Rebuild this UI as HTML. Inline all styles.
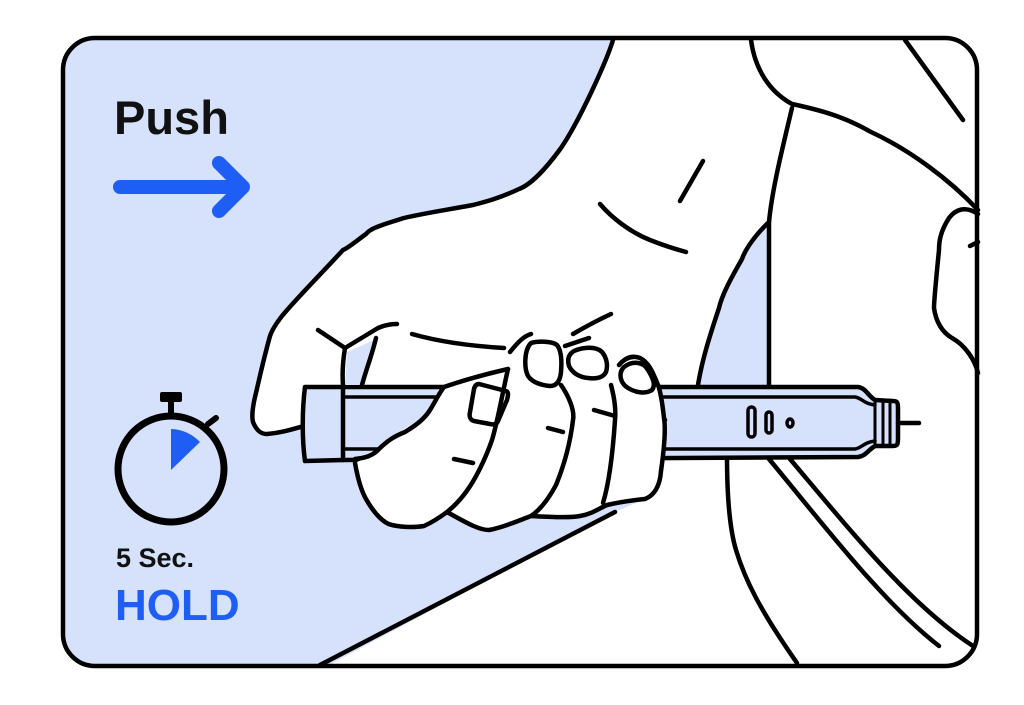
<!DOCTYPE html>
<html><head><meta charset="utf-8"><style>
html,body{margin:0;padding:0;background:#fff;}
svg{display:block;}
text{font-family:"Liberation Sans",sans-serif;font-weight:bold;}
</style></head><body>
<svg width="1024" height="705" viewBox="0 0 1024 705" xmlns="http://www.w3.org/2000/svg">
<defs><clipPath id="c"><rect x="63" y="38" width="914" height="628" rx="32"/></clipPath></defs>
<g clip-path="url(#c)">
<rect x="63" y="38" width="914" height="628" fill="#d6e1fb"/>
<path d="M613,30 C607,60 580,120 561,148 C545,170 530,185 519,189 C500,198 485,202 473,205 C440,211 420,214 404,218 C385,224 370,228 366,234 C355,242 348,248 343,250 C320,275 295,300 282,316 C275,325 272,330 270,336 C262,365 258,385 255,397 C252,410 252,418 253,422 C257,432 262,434 267,434 C280,433 290,430 301,426 L355,463 C360,480 366,499 366,499 C375,515 385,524 389,524 C405,528 420,527 424,526 C435,521 447,512 447,512 C470,525 489,530 489,530 L531,516 L580,516 L607,505 L645,499 L615,512 L320,670 L990,670 L990,30 Z" fill="#fff"/>
<path d="M768,222 C755,235 745,250 742,259 C730,280 722,295 719,308 C710,335 702,360 698,385 L769,385 Z" fill="#d6e1fb"/>
</g>
<g fill="none" stroke="#000" stroke-width="4.5" stroke-linecap="round" stroke-linejoin="round">
<path d="M613,40 C607,60 580,120 561,148 C545,170 530,185 519,189 C500,198 485,202 473,205 C440,211 420,214 404,218 C385,224 370,228 366,234 C355,242 348,248 343,250 C320,275 295,300 282,316 C275,325 272,330 270,336 C262,365 258,385 255,397 C252,410 252,418 253,422 C257,432 262,434 267,434 C280,433 290,430 304,426"/>
<path d="M320,665 L615,512"/>
<path d="M769,222 C755,235 745,250 742,259 C730,280 722,295 719,308 C710,335 702,360 698,385"/>
<path d="M792,108 C782,150 772,190 769,222 L769,385"/>
<path d="M751,40 C755,70 770,92 792,104 C830,112 850,120 871,132 C910,150 950,180 978,210"/>
<path d="M905,40 L963,120"/>
<path d="M978,214 C965,205 955,210 949,218 C940,232 939,242 939,250 C936,280 934,300 934,308 C936,322 942,332 952,338 C965,345 975,360 978,373"/>
<path d="M970,246 L978,242"/>
<path d="M727,456 C727,500 730,530 736,550 C745,580 760,610 797,663"/>
<path d="M769,459 C820,520 880,600 939,646"/>
<path d="M790,459 C850,530 910,605 973,646"/>
<path d="M600,204 C612,218 630,232 650,240 C665,246 675,249 686,252"/>
<path d="M703,161 L680,201"/>
</g>
<g stroke="#000" stroke-width="4.5" stroke-linejoin="round" stroke-linecap="round">
<path d="M305,387 L858,387 C866,388 868,396 875,400 L893,401 C898,401 898,403 898,410 L898,437 C898,444 898,446 893,446 L875,446 C868,450 866,456 858,457 L343,460 L305,461 C302,440 302,410 305,387 Z" fill="#d6e1fb"/>
<path d="M343,397 L855,397 C862,398 864,404 875,405 M343,449 L855,449 C862,448 864,442 875,441" fill="none" stroke-width="3.5"/>
<path d="M343,387 L343,460" fill="none"/>
<path d="M875,401 L875,446 M883,401 L883,446 M890,401 L890,446" fill="none" stroke-width="3"/>
<path d="M898,423 L919,423" fill="none"/>
<path d="M652,420 L665,420" fill="none"/>
<rect x="748" y="407" width="7" height="30" rx="3.5" fill="none" stroke-width="3.5"/>
<rect x="766" y="412" width="6" height="21" rx="3" fill="none" stroke-width="3.5"/>
<ellipse cx="790" cy="423" rx="3" ry="4" fill="none" stroke-width="3.5"/>
</g>
<path d="M443,387 L508,369 L531,334 L554,332 L565,344 L611,350 L630,356 L644,361 L658,385 L664,418 L661,471 L651,499 L645,499 L607,505 L580,516 L531,516 L489,530 L447,512 L424,526 L389,524 L366,499 L355,463 L374,454 L397,434 L427,414 Z" fill="#fff"/>
<g fill="none" stroke="#000" stroke-width="4.5" stroke-linecap="round" stroke-linejoin="round">
<path d="M355,459 C365,458 372,456 378,450 C388,440 395,436 405,432 C418,424 425,418 430,410 C436,400 440,392 444,387 C470,378 495,372 508,369"/>
<path d="M355,463 C358,480 362,492 366,499 C375,515 385,524 392,525 C405,528 418,527 424,526 C435,521 447,512 447,512 C470,525 480,530 489,530 C505,527 520,520 531,516 C550,517 570,518 580,516 C592,514 600,508 607,505 C620,502 635,500 645,499 C655,495 660,485 661,471 C664,450 666,430 664,418 C662,400 660,390 658,385 C652,370 648,362 640,358 C632,355 625,358 619,365"/>
<path d="M508,369 C502,395 498,420 492,440 C485,460 475,480 466,492 C458,503 452,508 447,512"/>
<path d="M561,385 C568,395 575,410 573,420 C570,445 563,468 556,485 C548,500 540,510 531,516"/>
<path d="M611,385 C615,400 616,410 615,420 C613,450 610,480 603,503"/>
<path d="M479,384 L506,391 C509,392 508,396 507,400 L498,421 C497,424 494,425 490,424 L474,421 C470,420 469,416 470,412 L474,389 C475,385 477,384 479,384 Z"/>
<path d="M531,343 C538,341 552,341 557,345 C561,350 562,360 561,372 C560,382 556,386 550,386 C540,385 532,382 528,376 C524,368 524,350 531,343 Z"/>
<path d="M574,351 C583,347 596,346 602,352 C607,358 608,366 606,372 C603,378 596,379 588,378 C578,377 572,372 569,366 C567,359 569,354 574,351 Z"/>
<path d="M624,367 C632,361 643,361 648,370 C653,378 656,385 652,390 C646,394 636,393 628,388 C620,383 618,373 624,367 Z"/>
<path d="M454,459 L473,463 M548,428 L563,432 M594,410 L615,416"/>
<path d="M412,334 C440,342 470,346 504,348"/>
<path d="M611,314 C598,320 585,327 573,334"/>
<path d="M565,346 L589,338"/>
<path d="M510,352 C518,342 524,336 531,334"/>
<path d="M318,330 L345,348 L378,328 C385,325 390,324 397,324"/>
</g>
<path d="M347,352 L374,340 L362,385 L345,385 Z" fill="#d6e1fb"/>
<path d="M345,348 C343,360 342,372 343,385 M376,338 C372,355 366,370 362,385" fill="none" stroke="#000" stroke-width="4.5" stroke-linecap="round"/>
<rect x="63" y="38" width="914" height="628" rx="32" fill="none" stroke="#000" stroke-width="4.5"/>
<text x="114" y="134" font-size="47" fill="#111">Push</text>
<g stroke="#1f5ef5" stroke-width="14" stroke-linecap="round" stroke-linejoin="round" fill="none">
<path d="M120,187 L243,187 M219,163 L243,187 L219,211"/>
</g>
<g>
<rect x="160" y="392" width="22" height="10" rx="2" fill="#000"/>
<rect x="168" y="400" width="6" height="14" fill="#000"/>
<path d="M208,424 L216,418" stroke="#000" stroke-width="6" stroke-linecap="round"/>
<circle cx="171" cy="469" r="53" fill="none" stroke="#000" stroke-width="7"/>
<path d="M171,470 L171,429 A41,41 0 0 1 200,442 Z" fill="#1f5ef5"/>
</g>
<text x="116" y="567" font-size="27" fill="#111">5 Sec.</text>
<text x="115" y="620" font-size="44" fill="#1f5ef5">HOLD</text>
</svg>
</body></html>
